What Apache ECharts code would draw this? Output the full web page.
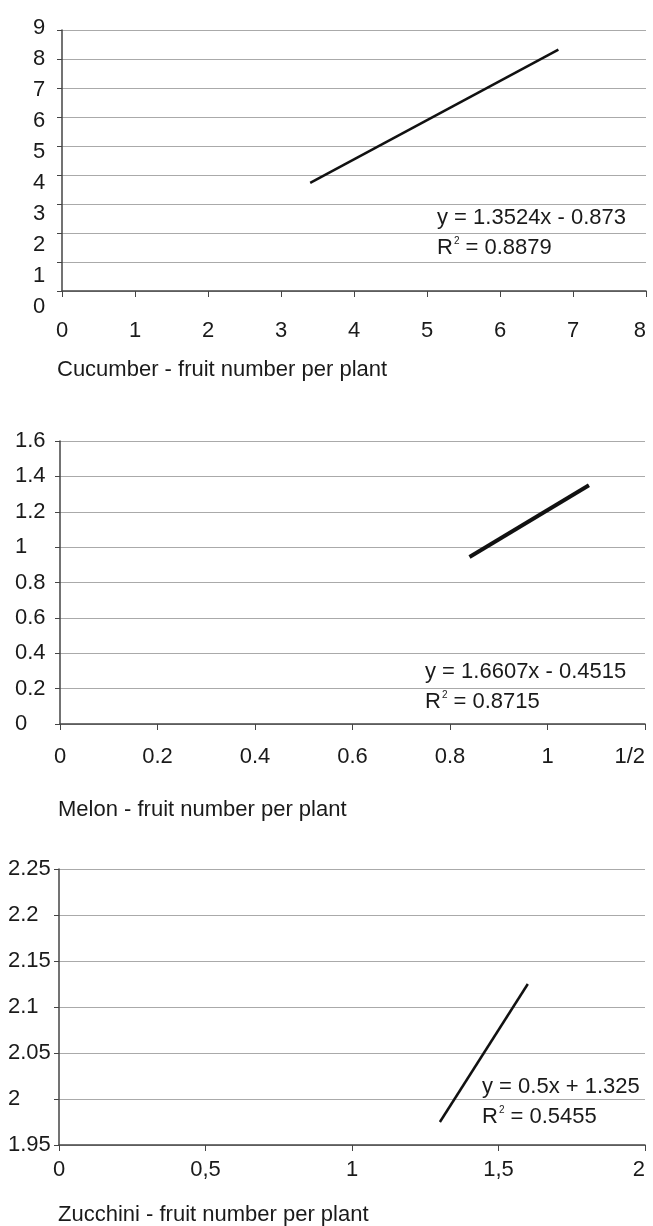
<!DOCTYPE html>
<html>
<head>
<meta charset="utf-8">
<script src="https://cdn.jsdelivr.net/npm/echarts@6/dist/echarts.min.js"></script>
<style>
  html, body { margin: 0; padding: 0; background: #fff; }
  #chart { width: 653px; height: 1226px; }
</style>
</head>
<body>
<div id="chart"></div>
<script>
// trend line end points
const cucumberLine = [[3.4, 3.73], [6.8, 8.32]]
const melonLine = [[0.84, 0.944], [1.085, 1.35]]
const zucchiniLine = [[1.3, 1.975], [1.6, 2.125]]

// tick labels as printed
const cucumberX = ['0', '1', '2', '3', '4', '5', '6', '7', '8']
const cucumberY = ['0', '1', '2', '3', '4', '5', '6', '7', '8', '9']
const melonX = ['0', '0.2', '0.4', '0.6', '0.8', '1', '1/2']
const melonY = ['0', '0.2', '0.4', '0.6', '0.8', '1', '1.2', '1.4', '1.6']
const zucchiniX = ['0', '0,5', '1', '1,5', '2']
const zucchiniY = ['1.95', '2', '2.05', '2.1', '2.15', '2.2', '2.25']

const names = ['Cucumber - fruit number per plant', 'Melon - fruit number per plant', 'Zucchini - fruit number per plant']
const equations = [
  ['y = 1.3524x - 0.873', '0.8879'],
  ['y = 1.6607x - 0.4515', '0.8715'],
  ['y = 0.5x + 1.325', '0.5455']
]

const FONT = "'Liberation Sans', Arial, sans-serif"
const TEXT = '#1a1a1a'
const AXIS = '#444'
const GRIDLINE = '#aaaaaa'

const chart = echarts.init(document.getElementById('chart'))

const xAxisBase = (gridIndex, min, max, interval, labels, margin) => ({
  type: 'value', gridIndex, min, max, interval,
  axisLine: { show: true, onZero: false, lineStyle: { color: AXIS, width: 1.5 } },
  axisTick: { show: true, length: 6, lineStyle: { color: AXIS, width: 1 } },
  splitLine: { show: false },
  axisLabel: {
    margin, color: TEXT, fontFamily: FONT, fontSize: 22,
    alignMaxLabel: 'right',
    formatter: (v, i) => labels[i]
  }
})

const yAxisBase = (gridIndex, min, max, interval, labels, margin, showLabel) => ({
  type: 'value', gridIndex, min, max, interval,
  axisLine: { show: true, lineStyle: { color: AXIS, width: 1.5 } },
  axisTick: { show: true, length: 5, lineStyle: { color: AXIS, width: 1 } },
  splitLine: { show: true, lineStyle: { color: GRIDLINE, width: 1.2 } },
  axisLabel: {
    show: showLabel, margin, align: 'left', color: TEXT, fontFamily: FONT, fontSize: 22,
    formatter: (v, i) => labels[i]
  }
})

const textTitle = (text, left, centerY) => ({
  text, left, top: centerY - 11, padding: 0,
  textStyle: {
    fontFamily: FONT, fontSize: 22, fontWeight: 'normal', color: TEXT, lineHeight: 22,
    rich: {
      n: { fontFamily: FONT, fontSize: 22, color: TEXT, lineHeight: 22 },
      sup: { fontFamily: FONT, fontSize: 10, color: TEXT, lineHeight: 22, padding: [0, 0, 13, 1] }
    }
  }
})

const lineSeries = (i, data, width) => ({
  type: 'line', xAxisIndex: i, yAxisIndex: i, data,
  symbol: 'none', silent: true,
  lineStyle: { color: '#111', width }
})

chart.setOption({
  animation: false,
  title: [
    textTitle(names[0], 57, 370),
    textTitle(names[1], 58, 810),
    textTitle(names[2], 58, 1215),
    textTitle('{n|' + equations[0][0] + '}', 437, 218),
    textTitle('{n|R}{sup|2}{n| = ' + equations[0][1] + '}', 437, 248),
    textTitle('{n|' + equations[1][0] + '}', 425, 672),
    textTitle('{n|R}{sup|2}{n| = ' + equations[1][1] + '}', 425, 702),
    textTitle('{n|' + equations[2][0] + '}', 482, 1087),
    textTitle('{n|R}{sup|2}{n| = ' + equations[2][1] + '}', 482, 1117)
  ],
  grid: [
    { left: 62, top: 30, right: 7, height: 261 },
    { left: 60, top: 441, right: 8, height: 283 },
    { left: 59, top: 869, right: 8, height: 276 },
    // cucumber y labels sit on a slightly wider spacing than the grid lines
    { left: 62, top: 28, width: 10, height: 279 }
  ],
  xAxis: [
    xAxisBase(0, 0, 8, 1, cucumberX, 29),
    xAxisBase(1, 0, 1.2, 0.2, melonX, 22),
    xAxisBase(2, 0, 2, 0.5, zucchiniX, 14),
    { type: 'value', gridIndex: 3, show: false, min: 0, max: 1 }
  ],
  yAxis: [
    yAxisBase(0, 0, 9, 1, cucumberY, 29, false),
    yAxisBase(1, 0, 1.6, 0.2, melonY, 45, true),
    yAxisBase(2, 1.95, 2.25, 0.05, zucchiniY, 51, true),
    {
      type: 'value', gridIndex: 3, min: 0, max: 9, interval: 1,
      axisLine: { show: false }, axisTick: { show: false }, splitLine: { show: false },
      axisLabel: {
        margin: 29, align: 'left', color: TEXT, fontFamily: FONT, fontSize: 22,
        formatter: (v, i) => cucumberY[i]
      }
    }
  ],
  series: [
    lineSeries(0, cucumberLine, 2.5),
    lineSeries(1, melonLine, 4),
    lineSeries(2, zucchiniLine, 2.5)
  ]
})
</script>
</body>
</html>
